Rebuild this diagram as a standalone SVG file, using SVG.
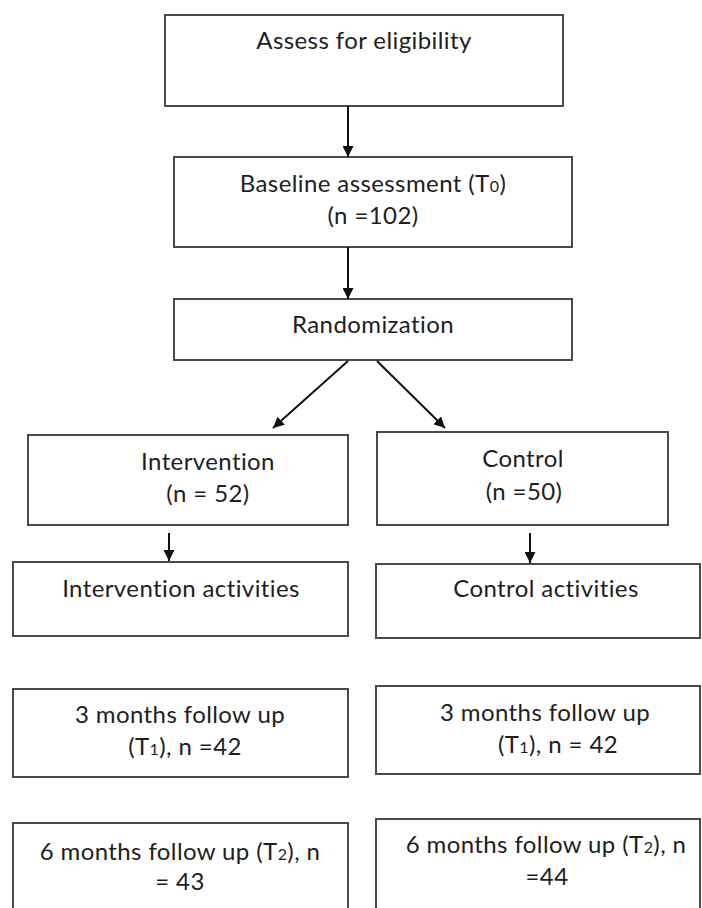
<svg xmlns="http://www.w3.org/2000/svg" width="702" height="908" viewBox="0 0 702 908">
<defs>
<style>
.box{fill:#fff;stroke:#4a4a4a;stroke-width:2}
.t{font-family:Lato,"Liberation Sans",sans-serif;font-size:24px;letter-spacing:0.4px;fill:#1e1e1e;text-anchor:middle}
.sub{font-size:16px}
.c{stroke:#111;stroke-width:2;fill:none}
</style>
<marker id="ah" viewBox="0 0 10 10" refX="10" refY="5" markerWidth="11" markerHeight="11" markerUnits="userSpaceOnUse" orient="auto">
<path d="M0,0 L10,5 L0,10 z" fill="#111"/>
</marker>
</defs>
<rect width="702" height="908" fill="#fff"/>
<g id="n-eligibility">
<rect class="box" x="165" y="15" width="398" height="91"/>
<text class="t" x="364" y="49">Assess for eligibility</text>
</g>
<g id="n-baseline">
<rect class="box" x="174" y="157" width="398" height="90"/>
<text class="t" x="373" y="192">Baseline assessment (T<tspan class="sub">0</tspan>)</text>
<text class="t" x="373" y="224">(n =102)</text>
</g>
<g id="n-random">
<rect class="box" x="174" y="299" width="398" height="61"/>
<text class="t" x="373" y="333">Randomization</text>
</g>
<g id="n-intervention">
<rect class="box" x="28" y="435" width="320" height="90"/>
<text class="t" x="208" y="470">Intervention</text>
<text class="t" x="208" y="502">(n = 52)</text>
</g>
<g id="n-control">
<rect class="box" x="377" y="432" width="291" height="93"/>
<text class="t" x="523" y="467">Control</text>
<text class="t" x="524" y="500">(n =50)</text>
</g>
<g id="n-int-act">
<rect class="box" x="13" y="562" width="335" height="74"/>
<text class="t" x="181" y="597">Intervention activities</text>
</g>
<g id="n-ctl-act">
<rect class="box" x="376" y="564" width="324" height="74"/>
<text class="t" x="546" y="597">Control activities</text>
</g>
<g id="n-int-3m">
<rect class="box" x="13" y="689" width="335" height="88"/>
<text class="t" x="180" y="723">3 months follow up</text>
<text class="t" x="185" y="755">(T<tspan class="sub">1</tspan>), n =42</text>
</g>
<g id="n-ctl-3m">
<rect class="box" x="376" y="686" width="324" height="88"/>
<text class="t" x="545" y="721">3 months follow up</text>
<text class="t" x="558" y="753">(T<tspan class="sub">1</tspan>), n = 42</text>
</g>
<g id="n-int-6m">
<rect class="box" x="13" y="823" width="335" height="100"/>
<text class="t" x="180" y="860">6 months follow up (T<tspan class="sub">2</tspan>), n</text>
<text class="t" x="180" y="890">= 43</text>
</g>
<g id="n-ctl-6m">
<rect class="box" x="376" y="819" width="324" height="100"/>
<text class="t" x="546" y="853">6 months follow up (T<tspan class="sub">2</tspan>), n</text>
<text class="t" x="547" y="885">=44</text>
</g>
<g id="connectors">
<line class="c" x1="348" y1="106" x2="348" y2="157" marker-end="url(#ah)"/>
<line class="c" x1="348" y1="247" x2="348" y2="299" marker-end="url(#ah)"/>
<line class="c" x1="348" y1="361" x2="273" y2="428" marker-end="url(#ah)"/>
<line class="c" x1="377" y1="361" x2="445" y2="428" marker-end="url(#ah)"/>
<line class="c" x1="169" y1="533" x2="169" y2="561" marker-end="url(#ah)"/>
<line class="c" x1="530" y1="533" x2="530" y2="563" marker-end="url(#ah)"/>
</g>
</svg>
